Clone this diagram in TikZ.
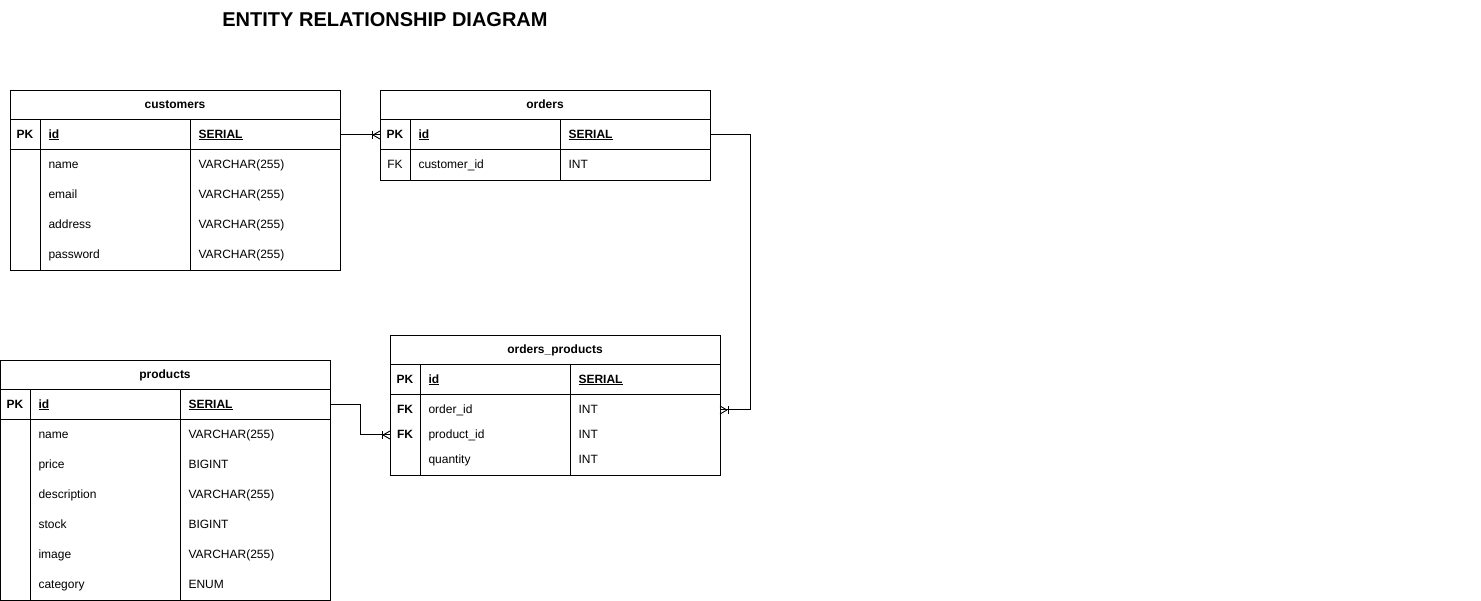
\documentclass[tikz,border=0pt]{standalone}
\usepackage{fontspec}
\setmainfont{Liberation Sans}
\begin{document}
\begin{tikzpicture}[x=1pt,y=-1pt,line width=1pt,
  cell/.style={font=\fontsize{12}{14}\selectfont, anchor=west, inner sep=0pt, text height=8.6pt, text depth=2.4pt},
  keycell/.style={font=\fontsize{12}{14}\selectfont\bfseries, anchor=center, inner sep=0pt, text height=8.6pt, text depth=2.4pt},
  hdr/.style={font=\fontsize{12}{14}\selectfont\bfseries, anchor=center, inner sep=0pt, text height=8.6pt, text depth=2.4pt},
  tbl/.style={draw, rectangle, anchor=north west, inner sep=0pt},
  conn/.style={draw, line width=1pt},
  crowfoot/.pic={\draw[line width=0.9pt] (-8,-4)--(-8,4); \draw[line width=0.9pt] (-7,0)--(0,-4) (-7,0)--(0,4);}
]
\useasboundingbox (0,0) rectangle (1481,601);

\node[font=\fontsize{20}{24}\selectfont\bfseries, inner sep=0pt] (title) at (385,20) {ENTITY RELATIONSHIP DIAGRAM};

% ---------------- customers ----------------
\node[tbl, minimum width=330pt, minimum height=180pt] (cust) at (10,90) {};
\draw (10,120)--(340,120) (10,150)--(340,150) (40,120)--(40,270) (190,120)--(190,270);
\node[hdr] (cust-h) at (175,105) {customers};
\node[keycell] (cust-pk) at (25,135) {PK};
\node[cell,font=\fontsize{12}{14}\selectfont\bfseries] (cust-id) at (48,135) {\underline{id}};
\node[cell,font=\fontsize{12}{14}\selectfont\bfseries] (cust-idt) at (198,135) {\underline{SERIAL}};
\node[cell] (cust-n) at (48,165) {name};
\node[cell] (cust-nt) at (198,165) {VARCHAR(255)};
\node[cell] (cust-e) at (48,195) {email};
\node[cell] (cust-et) at (198,195) {VARCHAR(255)};
\node[cell] (cust-a) at (48,225) {address};
\node[cell] (cust-at) at (198,225) {VARCHAR(255)};
\node[cell] (cust-p) at (48,255) {password};
\node[cell] (cust-pt) at (198,255) {VARCHAR(255)};
\coordinate (cust-idR) at (340,135);

% ---------------- orders ----------------
\node[tbl, minimum width=330pt, minimum height=90pt] (ord) at (380,90) {};
\draw (380,120)--(710,120) (380,150)--(710,150) (410,120)--(410,180) (560,120)--(560,180);
\node[hdr] (ord-h) at (545,105) {orders};
\node[keycell] (ord-pk) at (395,135) {PK};
\node[cell,font=\fontsize{12}{14}\selectfont\bfseries] (ord-id) at (418,135) {\underline{id}};
\node[cell,font=\fontsize{12}{14}\selectfont\bfseries] (ord-idt) at (568,135) {\underline{SERIAL}};
\node[cell,anchor=center] (ord-fk) at (395,165) {FK};
\node[cell] (ord-c) at (418,165) {customer\_id};
\node[cell] (ord-ct) at (568,165) {INT};
\coordinate (ord-idL) at (380,135);
\coordinate (ord-idR) at (710,135);

% ---------------- orders_products ----------------
\node[tbl, minimum width=330pt, minimum height=140pt] (op) at (390,335) {};
\draw (390,365)--(720,365) (390,395)--(720,395) (420,365)--(420,475) (570,365)--(570,475);
\node[hdr] (op-h) at (555,350) {orders\_products};
\node[keycell] (op-pk) at (405,380) {PK};
\node[cell,font=\fontsize{12}{14}\selectfont\bfseries] (op-id) at (428,380) {\underline{id}};
\node[cell,font=\fontsize{12}{14}\selectfont\bfseries] (op-idt) at (578,380) {\underline{SERIAL}};
\node[keycell] (op-fk1) at (405,410) {FK};
\node[cell] (op-o) at (428,410) {order\_id};
\node[cell] (op-ot) at (578,410) {INT};
\node[keycell] (op-fk2) at (405,435) {FK};
\node[cell] (op-p) at (428,435) {product\_id};
\node[cell] (op-pt) at (578,435) {INT};
\node[cell] (op-q) at (428,460) {quantity};
\node[cell] (op-qt) at (578,460) {INT};
\coordinate (op-oR) at (720,410);
\coordinate (op-pL) at (390,435);

% ---------------- products ----------------
\node[tbl, minimum width=330pt, minimum height=240pt] (prod) at (0,360) {};
\draw (0,390)--(330,390) (0,420)--(330,420) (30,390)--(30,600) (180,390)--(180,600);
\node[hdr] (prod-h) at (165,375) {products};
\node[keycell] (prod-pk) at (15,405) {PK};
\node[cell,font=\fontsize{12}{14}\selectfont\bfseries] (prod-id) at (38,405) {\underline{id}};
\node[cell,font=\fontsize{12}{14}\selectfont\bfseries] (prod-idt) at (188,405) {\underline{SERIAL}};
\node[cell] (prod-n) at (38,435) {name};
\node[cell] (prod-nt) at (188,435) {VARCHAR(255)};
\node[cell] (prod-pr) at (38,465) {price};
\node[cell] (prod-prt) at (188,465) {BIGINT};
\node[cell] (prod-d) at (38,495) {description};
\node[cell] (prod-dt) at (188,495) {VARCHAR(255)};
\node[cell] (prod-s) at (38,525) {stock};
\node[cell] (prod-st) at (188,525) {BIGINT};
\node[cell] (prod-i) at (38,555) {image};
\node[cell] (prod-it) at (188,555) {VARCHAR(255)};
\node[cell] (prod-c) at (38,585) {category};
\node[cell] (prod-ct) at (188,585) {ENUM};
\coordinate (prod-idR) at (330,405);

% ---------------- connectors ----------------
\draw[conn] (cust-idR) -- (ord-idL);
\pic at (ord-idL) {crowfoot};
\draw[conn] (ord-idR) -- ++(40,0) |- (op-oR);
\pic[rotate=180] at (op-oR) {crowfoot};
\draw[conn] (prod-idR) -- ++(30,0) |- (op-pL);
\pic at (op-pL) {crowfoot};
\end{tikzpicture}
\end{document}
